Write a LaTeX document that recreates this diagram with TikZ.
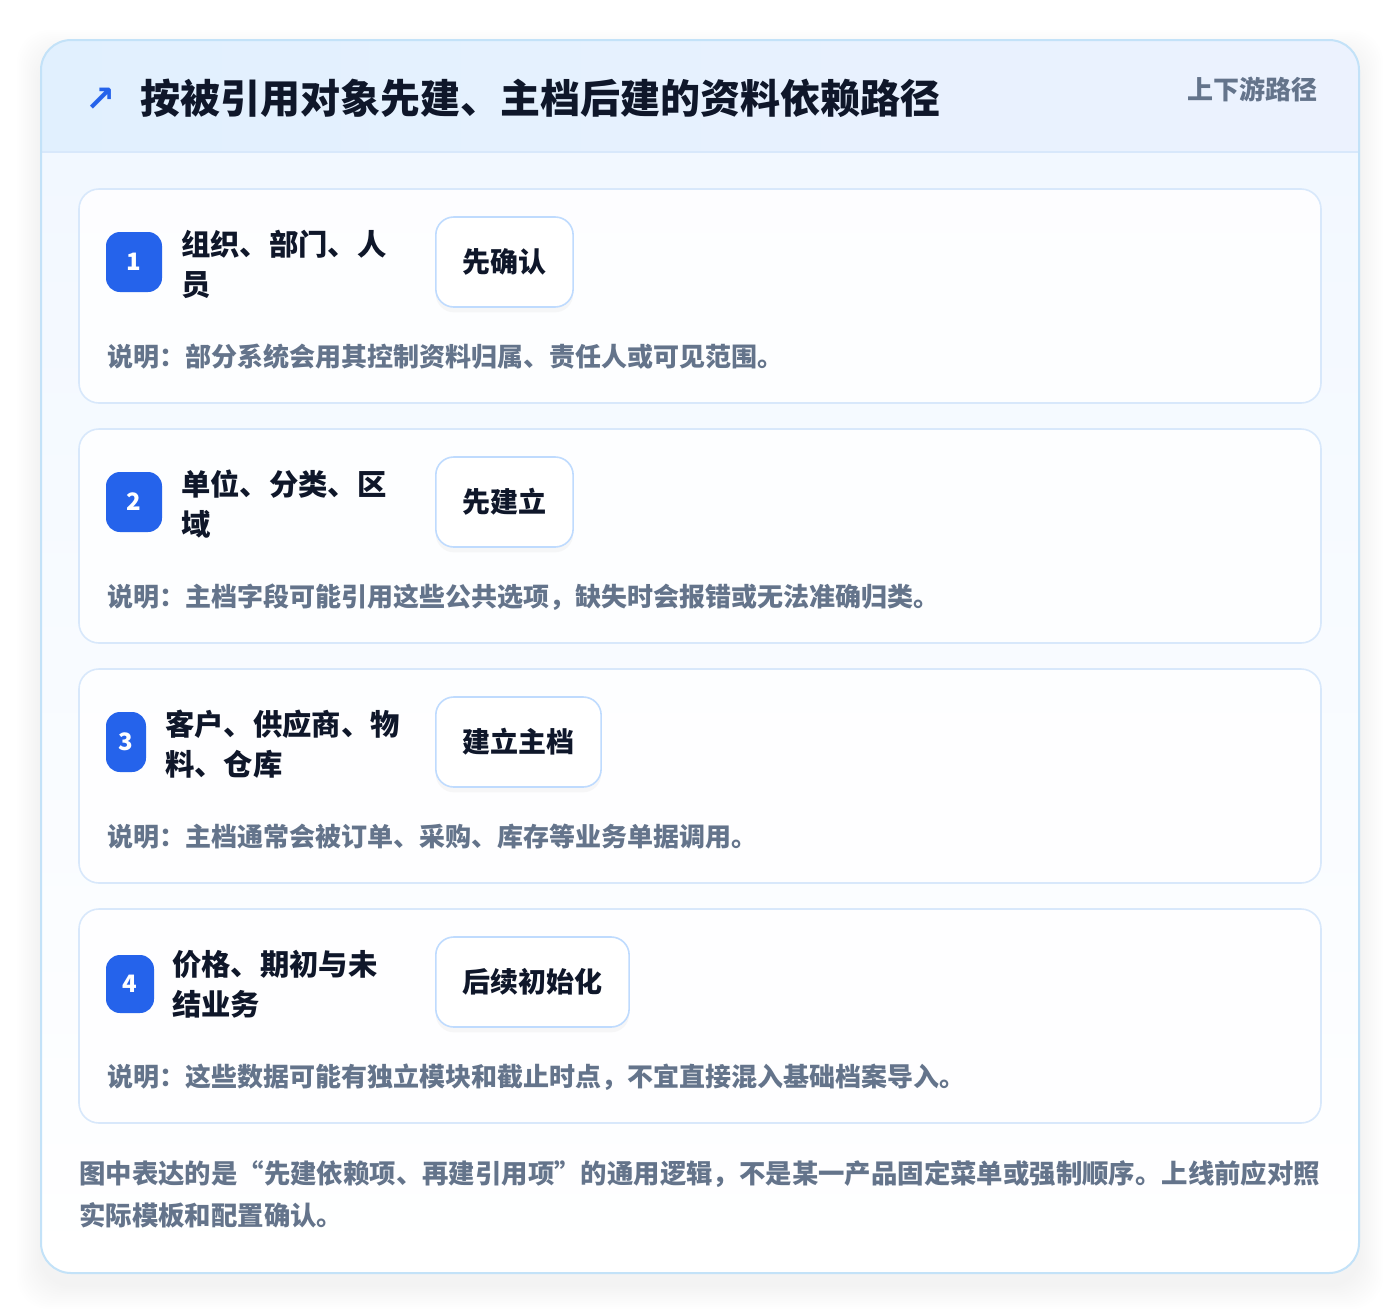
\documentclass[tikz,border=0pt]{standalone}
\usepackage{fontspec}
\setmainfont{Noto Sans CJK SC}
\newfontfamily\symfont{DejaVu Sans}
\usetikzlibrary{shadows}

\definecolor{blueBadge}{HTML}{2563EB}
\definecolor{inkDark}{HTML}{0F172A}
\definecolor{inkGrey}{HTML}{64748B}
\definecolor{cardLine}{HTML}{D8E8FB}
\definecolor{btnLine}{HTML}{BFDBFE}
\definecolor{outerLine}{HTML}{C3E2F8}
\definecolor{hdrLeft}{HTML}{E1F0FE}
\definecolor{hdrRight}{HTML}{ECF2FE}
\definecolor{bodyTop}{HTML}{F2F8FF}

\tikzset{
  stepcard/.style={draw=cardLine,line width=1.2pt,fill=white,fill opacity=0.85,rounded corners=15pt},
  badge/.style={fill=blueBadge,text=white,rounded corners=10.5pt,minimum height=45pt,inner sep=0pt,
    font=\fontsize{18}{18}\selectfont\bfseries},
  steptitle/.style={anchor=west,align=left,text=inkDark,inner sep=0pt,font=\fontsize{22}{30}\selectfont\bfseries},
  actbtn/.style={anchor=west,draw=btnLine,line width=1.2pt,fill=white,rounded corners=13.5pt,
    minimum height=67.5pt,inner xsep=20pt,text=inkDark,font=\fontsize{21}{21}\selectfont\bfseries,
    drop shadow={opacity=0.06,shadow xshift=0pt,shadow yshift=-4pt}},
  note/.style={anchor=west,inner sep=0pt,text=inkGrey,font=\fontsize{19.5}{19.5}\selectfont\bfseries}
}

\begin{document}
\begin{tikzpicture}[x=0.75pt,y=-0.75pt]
\useasboundingbox (0,0) rectangle (1400,1314);
\fill[white] (0,0) rectangle (1400,1314);

% soft shadow of the outer card
\foreach \s in {2,4,...,24}
  \fill[black,opacity=0.005,rounded corners=24pt] (41-\s,40-\s+14) rectangle (1359+\s,1273+\s+12);

\begin{scope}
\clip[rounded corners=22.5pt] (41,40) rectangle (1359,1273);
\shade[top color=bodyTop,bottom color=white] (41,152) rectangle (1359,1273);
\shade[left color=hdrLeft,right color=hdrRight] (41,40) rectangle (1359,152);
\draw[cardLine,line width=0.9pt] (41,152) -- (1359,152);
\end{scope}
\draw[outerLine,line width=1.5pt,rounded corners=22.5pt] (41,40) rectangle (1359,1273);

% header
\node[anchor=west,text=blueBadge,inner sep=0pt,font=\symfont\fontsize{27}{27}\selectfont\bfseries] (arrow) at (85,100) {↗};
\node[anchor=west,text=inkDark,inner sep=0pt,font=\fontsize{30}{30}\selectfont\bfseries] (title) at (140,98)
  {按被引用对象先建、主档后建的资料依赖路径};
\node[anchor=east,text=inkGrey,inner sep=0pt,font=\fontsize{19.5}{19.5}\selectfont\bfseries] (tag) at (1318,89)
  {上下游路径};

% step 1
\draw[stepcard] (79,189) rectangle (1321,403);
\node[badge,minimum width=42pt] (b1) at (134,262) {1};
\node[steptitle] (t1) at (181,264) {组织、部门、人\\员};
\node[actbtn] (a1) at (435,262) {先确认};
\node[note] (n1) at (107,357) {说明：部分系统会用其控制资料归属、责任人或可见范围。};

% step 2
\draw[stepcard] (79,429) rectangle (1321,643);
\node[badge,minimum width=42pt] (b2) at (134,502) {2};
\node[steptitle] (t2) at (181,504) {单位、分类、区\\域};
\node[actbtn] (a2) at (435,502) {先建立};
\node[note] (n2) at (107,597) {说明：主档字段可能引用这些公共选项，缺失时会报错或无法准确归类。};

% step 3
\draw[stepcard] (79,669) rectangle (1321,883);
\node[badge,minimum width=30pt] (b3) at (126,742) {3};
\node[steptitle] (t3) at (165,744) {客户、供应商、物\\料、仓库};
\node[actbtn] (a3) at (435,742) {建立主档};
\node[note] (n3) at (107,837) {说明：主档通常会被订单、采购、库存等业务单据调用。};

% step 4
\draw[stepcard] (79,909) rectangle (1321,1123);
\node[badge,minimum width=36pt,minimum height=43.5pt] (b4) at (130,984) {4};
\node[steptitle] (t4) at (172,984) {价格、期初与未\\结业务};
\node[actbtn] (a4) at (435,982) {后续初始化};
\node[note] (n4) at (107,1077) {说明：这些数据可能有独立模块和截止时点，不宜直接混入基础档案导入。};

% footer
\node[anchor=north west,align=left,inner sep=0pt,text=inkGrey,font=\fontsize{19.8}{31.5}\selectfont\bfseries] (foot) at (79,1160)
  {图中表达的是“先建依赖项、再建引用项”的通用逻辑，不是某一产品固定菜单或强制顺序。上线前应对照\\实际模板和配置确认。};
\end{tikzpicture}
\end{document}
